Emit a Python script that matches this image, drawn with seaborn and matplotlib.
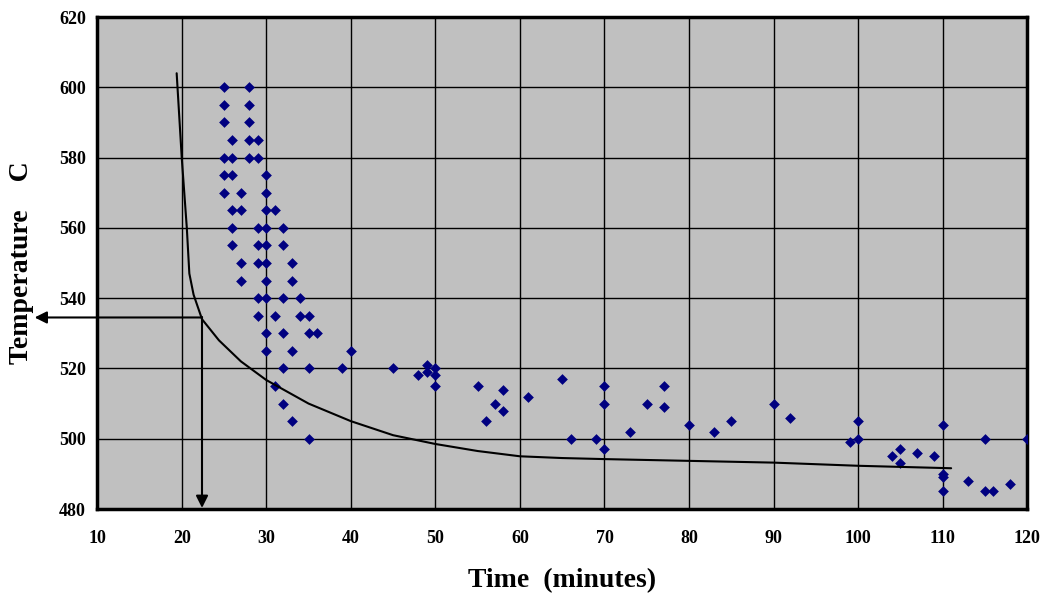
import matplotlib
matplotlib.use("Agg")
import matplotlib.pyplot as plt
import seaborn as sns
import pandas as pd

# measured points: time (minutes) and temperature (C)
time_min = [25, 25, 25, 25, 25, 25,
            26, 26, 26, 26, 26, 26,
            27, 27, 27, 27,
            28, 28, 28, 28, 28,
            29, 29, 29, 29, 29, 29, 29,
            30, 30, 30, 30, 30, 30, 30, 30, 30, 30,
            31, 31, 31,
            32, 32, 32, 32, 32, 32,
            33, 33, 33, 33,
            34, 34, 35, 35, 35, 35, 36,
            39, 40, 45, 48, 49, 49, 50, 50, 50,
            55, 56, 57, 58, 58, 61, 65, 66, 69, 70, 70, 70,
            73, 75, 77, 77, 80, 83, 85, 90, 92,
            99, 100, 100, 104, 105, 105, 107, 109,
            110, 110, 110, 110, 113, 115, 115, 116, 118, 120]
temp_c = [600, 595, 590, 580, 575, 570,
          585, 580, 575, 565, 560, 555,
          570, 565, 550, 545,
          600, 595, 590, 585, 580,
          585, 580, 560, 555, 550, 540, 535,
          575, 570, 565, 560, 555, 550, 545, 540, 530, 525,
          565, 535, 515,
          560, 555, 540, 530, 520, 510,
          550, 545, 525, 505,
          540, 535, 535, 530, 520, 500, 530,
          520, 525, 520, 518, 521, 519, 520, 518, 515,
          515, 505, 510, 514, 508, 512, 517, 500, 500, 515, 510, 497,
          502, 510, 515, 509, 504, 502, 505, 510, 506,
          499, 505, 500, 495, 497, 493, 496, 495,
          504, 490, 489, 485, 488, 500, 485, 485, 487, 500]

# fitted curve (as drawn)
curve_time = [19.4, 20.0, 20.6, 20.9, 21.4, 22.4, 24.4, 27, 30, 35, 40, 45,
              50, 55, 60, 65, 70, 80, 90, 100, 111]
curve_temp = [604, 580, 560, 547, 541, 534, 528, 522, 516.7, 510, 505, 501,
              498.5, 496.5, 495, 494.5, 494.2, 493.7, 493.2, 492.3, 491.6]

# reading of the curve at 535 C
read_time = 22.4
read_temp = 534.5

pts = pd.DataFrame({"time": time_min, "temp": temp_c})
crv = pd.DataFrame({"time": curve_time, "temp": curve_temp})

sns.set_style("white")
plt.rcParams["font.family"] = ["Liberation Serif", "DejaVu Serif"]
plt.rcParams["font.weight"] = "bold"
plt.rcParams["text.color"] = "black"
plt.rcParams["axes.labelcolor"] = "black"

fig = plt.figure(figsize=(10.45, 5.97), dpi=100)
ax = fig.add_axes([0.093, 0.1474, 0.890, 0.8241])
ax.set_facecolor("#c0c0c0")

sns.scatterplot(data=pts, x="time", y="temp", marker="D", s=30,
                color="#000080", edgecolor="#000080", linewidth=0, ax=ax, zorder=3)
sns.lineplot(data=crv, x="time", y="temp", sort=False, color="black",
             linewidth=1.5, ax=ax, zorder=4)

# reading arrows
ax.plot([read_time, read_time], [read_temp, 481.5], color="black", lw=1.5, zorder=4)
ax.annotate("", xy=(read_time, 480.3), xytext=(read_time, 484),
            arrowprops=dict(arrowstyle="-|>", color="black", lw=1.5,
                            mutation_scale=18, shrinkA=0, shrinkB=0), zorder=5)
ax.annotate("", xy=(2.6, read_temp), xytext=(read_time, read_temp),
            arrowprops=dict(arrowstyle="-|>", color="black", lw=1.5,
                            mutation_scale=18, shrinkA=0, shrinkB=0),
            annotation_clip=False, zorder=5)

ax.set_xlim(10, 120)
ax.set_ylim(480, 620)
ax.set_xticks(range(10, 121, 10))
ax.set_yticks(range(480, 621, 20))
ax.grid(True, color="black", linewidth=1)
ax.set_axisbelow(True)
for sp in ax.spines.values():
    sp.set_linewidth(2.5)
    sp.set_color("black")

ax.tick_params(axis="both", direction="out", length=5, width=1, labelsize=13, colors="black")
ax.tick_params(axis="x", pad=10)
ax.tick_params(axis="y", pad=3)
for lab in ax.get_xticklabels() + ax.get_yticklabels():
    lab.set_fontweight("bold")

ax.set_xlabel("Time  (minutes)", fontsize=20, fontweight="bold", labelpad=15)
ax.set_ylabel("Temperature    C", fontsize=20, fontweight="bold", labelpad=18)

fig.savefig("out.png", dpi=100)
